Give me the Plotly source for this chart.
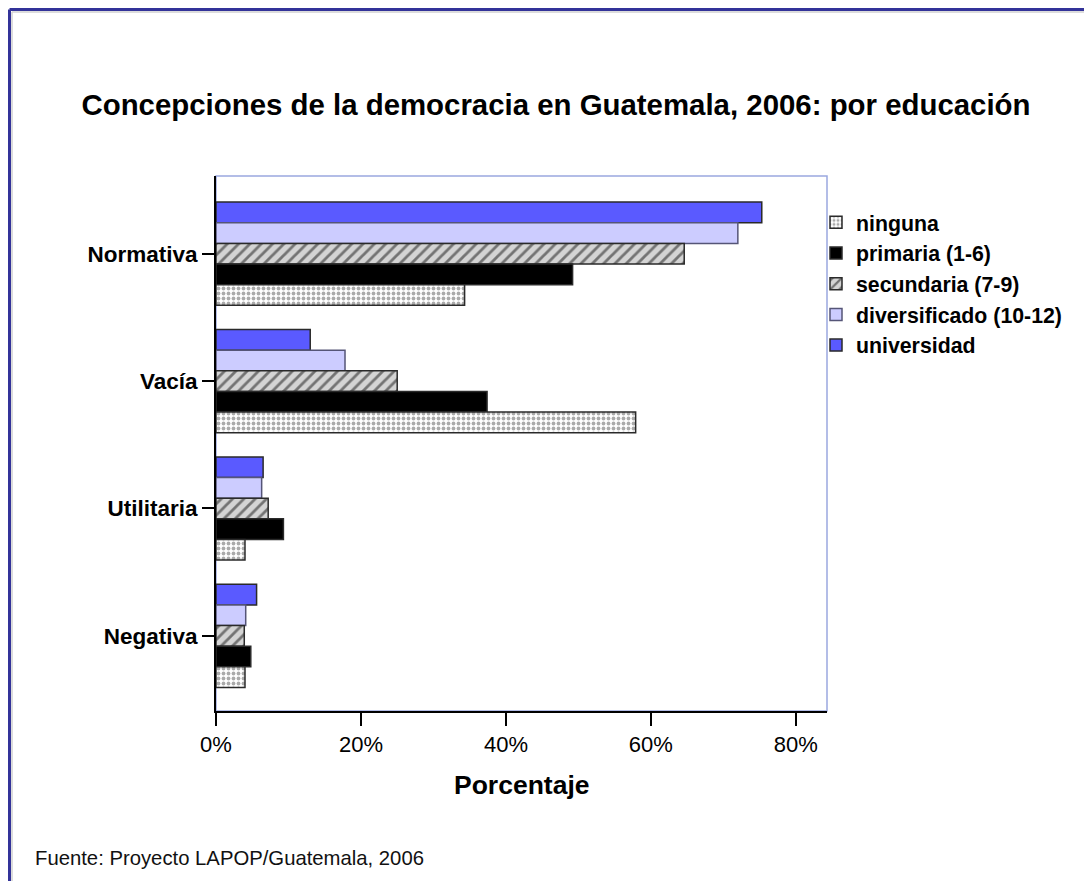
import plotly.graph_objects as go

categories = ["Normativa", "Vacía", "Utilitaria", "Negativa"]
series_names = ["ninguna", "primaria (1-6)", "secundaria (7-9)", "diversificado (10-12)", "universidad"]
ninguna = [34.3, 57.9, 4.0, 4.0]
primaria = [49.2, 37.4, 9.3, 4.8]
secundaria = [64.6, 25.0, 7.2, 3.9]
diversificado = [72.0, 17.8, 6.3, 4.1]
universidad = [75.3, 13.0, 6.5, 5.6]
x_ticks = [0, 20, 40, 60, 80]
x_tick_labels = ["0%", "20%", "40%", "60%", "80%"]

# page has an 8px body margin; figure is sized so it fills the window exactly
OFF = 8
W, H = 1092 - OFF, 881 - OFF
# plot area in screen pixels
L, R, T, B = 216, 827, 176, 711
pw, ph = R - L, B - T

def px(x):
    return (x - L) / pw

def py(y):
    return (B - y) / ph

FONT = "Arial, Liberation Sans, sans-serif"
line = dict(color="#2a2a2a", width=1.5)

fig = go.Figure()
fig.add_trace(go.Bar(y=categories, x=universidad, name=series_names[4], orientation="h",
                     marker=dict(color="#5a5aff", line=line)))
fig.add_trace(go.Bar(y=categories, x=diversificado, name=series_names[3], orientation="h",
                     marker=dict(color="#ccccff", line=dict(color="#555577", width=1.5))))
fig.add_trace(go.Bar(y=categories, x=secundaria, name=series_names[2], orientation="h",
                     marker=dict(color="#d4d4d4", line=line,
                                 pattern=dict(shape="/", fgcolor="#111111", bgcolor="#d4d4d4",
                                              size=8, solidity=0.35))))
fig.add_trace(go.Bar(y=categories, x=primaria, name=series_names[1], orientation="h",
                     marker=dict(color="#000000", line=line)))
fig.add_trace(go.Bar(y=categories, x=ninguna, name=series_names[0], orientation="h",
                     marker=dict(color="#ffffff", line=line,
                                 pattern=dict(shape=".", fgcolor="#555555", bgcolor="#ffffff",
                                              size=5, solidity=0.45))))

shapes = [
    dict(type="rect", xref="paper", yref="paper", x0=0, y0=0, x1=1, y1=1,
         line=dict(color="#9aa8e0", width=1.5), layer="below"),
    dict(type="line", xref="paper", yref="paper", x0=px(9.5), x1=px(1100), y0=py(9.5), y1=py(9.5),
         line=dict(color="#333399", width=3)),
    dict(type="line", xref="paper", yref="paper", x0=px(9.5), x1=px(9.5), y0=py(9.5), y1=py(900),
         line=dict(color="#333399", width=3)),
    dict(type="line", xref="paper", yref="paper", x0=px(12), x1=px(1100), y0=py(12), y1=py(12),
         line=dict(color="#d0d0d0", width=1.5)),
    dict(type="line", xref="paper", yref="paper", x0=px(12), x1=px(12), y0=py(12), y1=py(900),
         line=dict(color="#d0d0d0", width=1.5)),
]

annotations = [
    dict(text="<b>Porcentaje</b>", xref="paper", yref="paper", x=px(522), y=py(785),
         xanchor="center", yanchor="middle", showarrow=False,
         font=dict(family=FONT, size=26.5, color="#000000")),
    dict(text="Fuente: Proyecto LAPOP/Guatemala, 2006", xref="paper", yref="paper",
         x=px(33), y=py(858), xanchor="left", yanchor="middle", showarrow=False,
         font=dict(family=FONT, size=20.3, color="#111111")),
]

fig.update_layout(
    width=W, height=H,
    margin=dict(l=L - OFF, r=W - (R - OFF), t=T - OFF, b=H - (B - OFF), autoexpand=False),
    paper_bgcolor="#ffffff", plot_bgcolor="#ffffff",
    barmode="group", bargap=0.19, bargroupgap=0,
    title=dict(text="<b>Concepciones de la democracia en Guatemala, 2006: por educación</b>",
               x=(556 - OFF) / W, y=1 - (105 - OFF) / H, xanchor="center", yanchor="middle",
               xref="container", yref="container",
               font=dict(family=FONT, size=29.4, color="#000000")),
    font=dict(family=FONT, color="#000000"),
    legend=dict(x=px(816), y=py(202), xanchor="left", yanchor="top",
                traceorder="reversed", bgcolor="rgba(0,0,0,0)",
                font=dict(family=FONT, size=21.3, color="#000000", weight="bold"),
                itemclick=False),
    shapes=shapes,
    annotations=annotations,
    xaxis=dict(range=[0, 84.3], tickvals=x_ticks, ticktext=x_tick_labels,
               showgrid=False, zeroline=False, showline=True, linecolor="#000000", linewidth=2,
               ticks="outside", ticklen=13, tickwidth=2, tickcolor="#000000",
               tickfont=dict(family=FONT, size=22, color="#000000")),
    yaxis=dict(type="category", categoryorder="array", categoryarray=categories,
               range=[3.59, -0.61], showgrid=False, zeroline=False,
               showline=True, linecolor="#000000", linewidth=2,
               ticks="outside", ticklen=12, tickwidth=2, tickcolor="#000000",
               tickfont=dict(family=FONT, size=22.5, color="#000000", weight="bold")),
)

fig.write_html("out.html")
